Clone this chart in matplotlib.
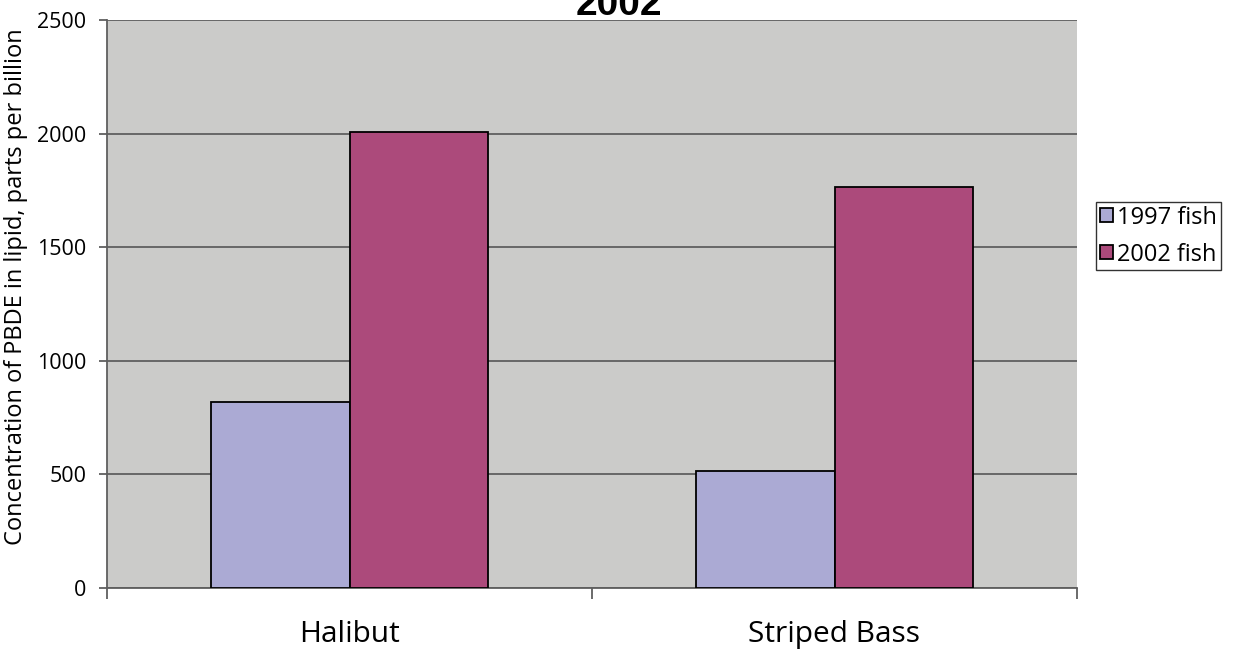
import matplotlib
matplotlib.use("Agg")
import matplotlib.pyplot as plt
import numpy as np

categories = ["Halibut", "Striped Bass"]
series_names = ["1997 fish", "2002 fish"]
values_1997 = [820, 515]
values_2002 = [2008, 1766]
y_ticks = [0, 500, 1000, 1500, 2000, 2500]
title = "2002"
ylabel = "Concentration of PBDE in lipid, parts per billion"

colors = ["#ABAAD4", "#AC4A7B"]
font = "Open Sans"

fig = plt.figure(figsize=(12.34, 6.54), dpi=100)
ax = fig.add_axes([107/1234, 1-588/654, (1077-107)/1234, (588-20)/654])
ax.set_facecolor("#CBCBC9")

x = np.arange(len(categories))
w = 0.285
ax.bar(x - w/2, values_1997, width=w, color=colors[0], edgecolor="black", linewidth=1.3, label=series_names[0], zorder=3)
ax.bar(x + w/2, values_2002, width=w, color=colors[1], edgecolor="black", linewidth=1.3, label=series_names[1], zorder=3)

ax.set_xlim(-0.5, len(categories) - 0.5)
ax.set_ylim(0, 2500)
ax.set_yticks(y_ticks)
ax.set_yticklabels([str(v) for v in y_ticks], fontsize=15.5, family=font)
ax.yaxis.grid(True, color="#5F5F5F", linewidth=1.3, zorder=1)
ax.set_axisbelow(True)

ax.set_xticks(np.arange(len(categories) + 1) - 0.5)
ax.set_xticklabels([])
ax.set_xticks(x, minor=True)
ax.set_xticklabels(categories, minor=True, fontsize=21.5, family=font)
ax.tick_params(axis="x", which="major", length=8, width=1.3, color="#5F5F5F", direction="out")
ax.tick_params(axis="x", which="minor", length=0, pad=23)
ax.tick_params(axis="y", length=6, width=1.3, color="#5F5F5F", direction="out", pad=9)

for s in ["top", "right"]:
    ax.spines[s].set_visible(False)
for s in ["left", "bottom"]:
    ax.spines[s].set_color("#5F5F5F")
    ax.spines[s].set_linewidth(1.3)

fig.text(16/1234, 1-287/654, ylabel, rotation=90, ha="center", va="center", fontsize=17, family=font)
fig.text(619/1234, 1-15/654, title, ha="center", va="baseline", fontsize=28, fontweight="bold", family="Liberation Sans")

leg = fig.legend(loc="upper left", bbox_to_anchor=(1096/1234, 1-202/654), frameon=True, fancybox=False,
                 prop={"family": font, "size": 17}, handlelength=0.55, handleheight=0.55, handletextpad=0.2,
                 labelspacing=0.55, borderpad=0.15, borderaxespad=0)
leg.get_frame().set_edgecolor("black")
leg.get_frame().set_linewidth(1.0)

fig.savefig("out.png", dpi=100)
